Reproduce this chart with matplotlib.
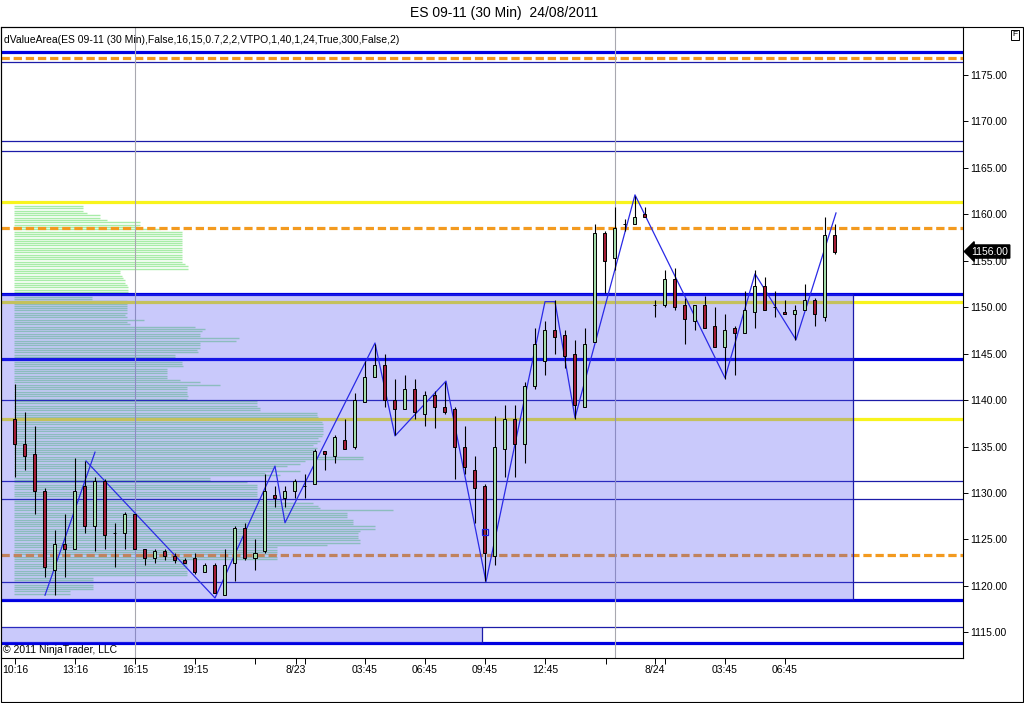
import numpy as np
import matplotlib
matplotlib.use('Agg')
import matplotlib.pyplot as plt
from matplotlib.patches import Rectangle

plt.rcParams['font.family'] = ['Liberation Sans', 'DejaVu Sans']

# ---------------- data ----------------
title = 'ES 09-11 (30 Min)  24/08/2011'
indicator_label = 'dValueArea(ES 09-11 (30 Min),False,16,15,0.7,2,2,VTPO,1,40,1,24,True,300,False,2)'
copyright_text = '\u00a9 2011 NinjaTrader, LLC'

opens = [1138.0, 1135.25, 1134.25, 1130.25, 1121.75, 1124.5, 1124.0, 1130.75, 1126.5, 1131.25,
         1125.75, 1125.75, 1127.75, 1124.0, 1123.0, 1123.75, 1123.25, 1122.75, 1123.0, 1121.5,
         1122.25, 1119.0, 1122.5, 1126.25, 1123.0, 1123.75, 1129.75, 1129.5, 1130.25, 1130.75,
         1131.0, 1134.5, 1134.0, 1135.75, 1135.0, 1139.75, 1142.5, 1143.75, 1140.0, 1139.0,
         1141.25, 1138.5, 1140.5, 1139.25, 1139.0, 1135.0, 1132.5, 1130.75, 1123.25, 1134.75,
         1138.0, 1135.25, 1141.5, 1144.25, 1147.5, 1147.0, 1145.0, 1139.25, 1146.25, 1158.0,
         1155.25, 1159.0, 1159.0, 1160.0, 1150.25, 1150.25, 1153.0, 1150.25, 1148.5, 1150.25,
         1148.0, 1145.75, 1147.75, 1147.25, 1149.5, 1152.25, 1150.0, 1149.5, 1149.25, 1149.75,
         1150.75, 1149.0, 1157.75]
highs = [1141.75, 1138.75, 1137.25, 1130.5, 1126.0, 1127.75, 1133.75, 1133.5, 1131.75, 1131.5,
         1126.75, 1128.0, 1127.75, 1124.0, 1124.0, 1124.0, 1123.5, 1123.0, 1123.5, 1122.5,
         1122.5, 1124.0, 1126.5, 1126.75, 1125.0, 1132.0, 1130.75, 1130.75, 1131.5, 1132.0,
         1134.75, 1134.5, 1136.25, 1138.0, 1140.75, 1144.25, 1146.0, 1145.0, 1142.25, 1142.75,
         1142.25, 1141.0, 1141.0, 1142.0, 1139.25, 1137.25, 1134.0, 1131.0, 1138.25, 1139.5,
         1139.5, 1142.0, 1147.75, 1148.5, 1150.75, 1147.5, 1146.5, 1147.75, 1159.0, 1158.25,
         1160.75, 1159.5, 1162.0, 1160.75, 1150.75, 1154.0, 1154.25, 1151.0, 1150.25, 1151.25,
         1150.0, 1149.25, 1148.0, 1151.75, 1154.0, 1153.25, 1151.75, 1150.75, 1150.25, 1152.5,
         1151.0, 1159.75, 1159.0]
lows = [1131.75, 1132.5, 1127.75, 1121.0, 1119.0, 1121.0, 1124.0, 1125.75, 1123.75, 1124.0,
        1122.0, 1124.0, 1124.0, 1122.25, 1122.5, 1122.75, 1122.5, 1122.5, 1121.25, 1121.5,
        1119.25, 1119.0, 1120.5, 1122.75, 1121.75, 1123.5, 1128.5, 1128.5, 1129.5, 1129.5,
        1131.0, 1132.5, 1133.25, 1134.75, 1134.75, 1139.75, 1142.5, 1139.25, 1136.25, 1139.0,
        1138.0, 1137.25, 1137.0, 1138.5, 1131.5, 1132.0, 1126.75, 1120.5, 1122.25, 1131.75,
        1131.75, 1133.25, 1141.25, 1142.75, 1145.0, 1143.5, 1138.0, 1139.25, 1146.25, 1151.5,
        1154.0, 1158.25, 1159.0, 1159.75, 1149.0, 1150.0, 1149.75, 1146.0, 1147.5, 1147.75,
        1145.75, 1142.25, 1142.75, 1147.25, 1147.75, 1149.75, 1149.0, 1149.25, 1146.5, 1149.75,
        1148.0, 1148.5, 1155.75]
closes = [1135.25, 1134.0, 1130.25, 1122.0, 1124.5, 1124.0, 1130.25, 1126.5, 1131.25, 1125.5,
          1125.75, 1127.75, 1124.0, 1123.0, 1123.75, 1123.25, 1122.75, 1122.5, 1121.5, 1122.25,
          1119.25, 1122.25, 1126.25, 1123.0, 1123.5, 1130.25, 1129.5, 1130.25, 1131.25, 1130.75,
          1134.5, 1134.25, 1136.0, 1134.75, 1140.0, 1142.5, 1143.75, 1140.0, 1139.0, 1141.25,
          1138.75, 1140.5, 1139.25, 1138.75, 1135.0, 1132.75, 1130.5, 1123.5, 1135.0, 1138.0,
          1135.25, 1141.5, 1146.0, 1147.5, 1146.75, 1144.75, 1139.5, 1146.0, 1158.0, 1155.0,
          1158.5, 1159.0, 1159.75, 1159.75, 1150.25, 1153.0, 1150.0, 1148.75, 1150.25, 1147.75,
          1145.75, 1147.5, 1147.25, 1149.75, 1152.25, 1149.75, 1150.0, 1149.25, 1149.75, 1150.75,
          1149.25, 1157.75, 1156.0]

zigzag_a_bar = [3.0, 8.0]
zigzag_a_price = [1119.0, 1134.4]
zigzag_b_bar = [7.1, 20.0, 26.0, 27.0, 36.0, 38.0, 43.1, 47.1, 53.0, 54.0, 56.0, 62.0, 71.0, 74.0, 78.1, 82.1]
zigzag_b_price = [1133.45, 1118.7, 1132.9, 1126.8, 1146.15, 1136.15, 1142.05, 1120.45, 1150.6, 1150.6,
                  1138.1, 1162.1, 1142.4, 1153.6, 1146.5, 1160.15]

profile_top = 1160.9
profile_counts = [69, 69, 69, 73, 86, 86, 93, 126, 126, 124,
                  146, 168, 168, 168, 168, 168, 168, 168, 168, 168,
                  168, 168, 168, 168, 168, 171, 174, 174, 106, 106,
                  108, 109, 111, 111, 113, 114, 114, 114, 78, 78,
                  78, 113, 113, 113, 113, 113, 113, 111, 113, 130,
                  113, 116, 181, 191, 188, 186, 186, 225, 222, 186,
                  186, 186, 183, 184, 161, 161, 164, 168, 168, 169,
                  153, 153, 153, 153, 153, 166, 186, 206, 173, 173,
                  173, 173, 174, 173, 243, 243, 243, 246, 246, 303,
                  303, 304, 306, 308, 309, 309, 309, 309, 309, 308,
                  304, 306, 303, 299, 303, 301, 298, 301, 349, 349,
                  291, 286, 273, 259, 286, 251, 266, 196, 196, 233,
                  243, 243, 243, 243, 243, 243, 246, 266, 299, 304,
                  306, 379, 333, 333, 333, 339, 339, 339, 361, 361,
                  346, 344, 344, 344, 346, 346, 313, 263, 263, 263,
                  263, 263, 263, 173, 173, 173, 173, 173, 173, 173,
                  79, 79, 79, 79, 79, 79, 56, 56]

thick_blue_levels = [1177.5, 1151.4, 1144.4, 1118.5, 1113.9]
thin_blue_levels = [1176.35, 1167.85, 1166.8, 1140.0, 1131.3, 1129.4, 1120.4, 1115.55]
yellow_levels = [1161.3, 1150.6, 1138.0]
orange_levels = [1176.85, 1158.5, 1123.35]

value_area_low, value_area_high, value_area_end = 1118.5, 1151.4, 83.8
prev_area_low, prev_area_high, prev_area_end = 1113.9, 1115.55, 46.7
session_breaks = [12, 60.05]
last_price = 1156.00
marker_bar, marker_price = 47, 1125.85

xtick_pos = [0, 6, 12, 18, 24, 28.1, 29, 35, 41, 47, 53, 59.1, 64, 65, 71, 77]
xtick_labels = ['10:16', '13:16', '16:15', '19:15', '', '8/23', '', '03:45', '06:45', '09:45',
                '12:45', '', '8/24', '', '03:45', '06:45']
ytick_vals = [1115, 1120, 1125, 1130, 1135, 1140, 1145, 1150, 1155, 1160, 1165, 1170, 1175]

# ---------------- figure ----------------
W, H = 1024, 703
fig = plt.figure(figsize=(W / 100, H / 100), dpi=100)
fig.patch.set_facecolor('white')
ax = fig.add_axes([1 / W, 1 - 658 / H, (963 - 1) / W, (658 - 27) / H])
ax.set_xlim(-1.4, 94.8)
ax.set_ylim(1112.24, 1180.17)

# volume profile
levels = profile_top - 0.25 * np.arange(len(profile_counts))
x0 = -0.1
ax.hlines(levels, x0, x0 + 0.1 * np.array(profile_counts), color='#a8eca8', lw=1.0, zorder=1)

# horizontal levels
for y in thin_blue_levels:
    ax.axhline(y, color='#1c1ca8', lw=0.9, zorder=2)
for y in yellow_levels:
    ax.axhline(y, color='#f8f41c', lw=2.3, zorder=2)
for y in orange_levels:
    ax.axhline(y, color='#f39a1f', lw=2.3, dashes=(2.6, 1.2), zorder=2)
for y in thick_blue_levels:
    ax.axhline(y, color='#0000e0', lw=2.3, zorder=2.2)

# session separators
for s in session_breaks:
    ax.axvline(s, color='#a8a8b0', lw=0.8, zorder=2.5)

# value area shading
ax.add_patch(Rectangle((-1.4, value_area_low), value_area_end + 1.4, value_area_high - value_area_low,
                       facecolor=(0.3, 0.3, 0.95), alpha=0.3, edgecolor='none', zorder=3))
ax.add_patch(Rectangle((-1.4, prev_area_low), prev_area_end + 1.4, prev_area_high - prev_area_low,
                       facecolor=(0.3, 0.3, 0.95), alpha=0.3, edgecolor='none', zorder=3))
ax.vlines(value_area_end, value_area_low, value_area_high, color='#1c1ca8', lw=0.9, zorder=4)
ax.vlines(prev_area_end, prev_area_low, prev_area_high, color='#1c1ca8', lw=0.9, zorder=4)

# zigzag (below candles)
ax.plot(zigzag_a_bar, zigzag_a_price, color='#2a2ae6', lw=0.9, zorder=4.5)
ax.plot(zigzag_b_bar, zigzag_b_price, color='#2a2ae6', lw=0.9, zorder=4.5)

# candles
o = np.array(opens); c = np.array(closes); h = np.array(highs); l = np.array(lows)
ks = np.arange(len(o))
ax.vlines(ks, l, h, color='black', lw=0.8, zorder=5)
body_bottom = np.minimum(o, c)
body_height = np.abs(c - o)
colors = ['#a4dcaa' if cc >= oo else '#a21e36' for oo, cc in zip(o, c)]
ax.bar(ks, body_height, width=0.3, bottom=body_bottom, color=colors,
       edgecolor='black', linewidth=0.7, zorder=6)

ax.plot([marker_bar], [marker_price], marker='s', ms=5, mfc='none', mec='#2020e0', mew=0.9, zorder=8)

# axes styling
ax.yaxis.tick_right()
ax.set_yticks(ytick_vals)
ax.set_yticklabels([f'{v:.2f}' for v in ytick_vals])
ax.set_xticks(xtick_pos)
ax.set_xticklabels(xtick_labels)
ax.tick_params(axis='y', direction='out', length=3.6, width=0.7, pad=1.5, labelsize=7.5, colors='black')
ax.tick_params(axis='x', direction='out', length=4.3, width=0.7, pad=1.0, labelsize=7.5, colors='black')
for sp in ax.spines.values():
    sp.set_color('black')
    sp.set_linewidth(0.8)

# last price marker
ax.annotate(f'{last_price:.2f}', xy=(1.0, last_price), xycoords=('axes fraction', 'data'),
            xytext=(6, 0), textcoords='offset points', ha='left', va='center', color='white',
            fontsize=7.5, bbox=dict(boxstyle='larrow,pad=0.15', fc='black', ec='black'),
            annotation_clip=False, zorder=10)

# texts
fig.text(504 / W, 1 - 13 / H, title, ha='center', va='center', fontsize=10)
fig.text(4 / W, 1 - 40 / H, indicator_label, ha='left', va='center', fontsize=7.5)
fig.text(3 / W, 1 - 650 / H, copyright_text, ha='left', va='center', fontsize=7.5)
fig.text(1015 / W, 1 - 35 / H, 'F', ha='center', va='center', fontsize=6,
         bbox=dict(boxstyle='square,pad=0.2', fc='white', ec='black', lw=0.7))

# outer panel frame
fig.add_artist(Rectangle((0.5 / W, 1 / H), (W - 2) / W, (H - 27 - 1) / H, transform=fig.transFigure,
                         fill=False, edgecolor='black', lw=0.8))

fig.savefig('out.png', dpi=100, facecolor='white')
